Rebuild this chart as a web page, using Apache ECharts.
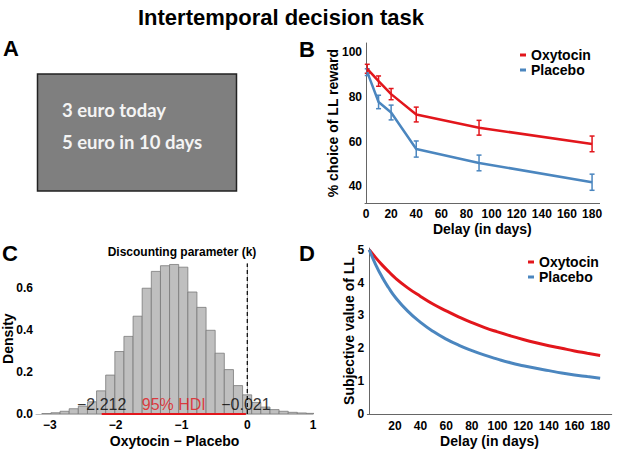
<!DOCTYPE html>
<html>
<head>
    <meta charset="utf-8">
    <title>Intertemporal decision task</title>
    <script src="https://cdn.jsdelivr.net/npm/echarts@6/dist/echarts.min.js"></script>
    <style>
        html, body { margin: 0; padding: 0; background: #fff; }
        #main { width: 617px; height: 449px; }
    </style>
</head>
<body>
<div id="main"></div>
<script>
    // B: choice of later-larger reward
    var delaysB = [1, 10, 20, 40, 90, 180];
    var oxyChoice = [92.5, 87.0, 81.2, 72.1, 66.2, 59.0];
    var oxyErr = [2.0, 2.3, 2.5, 3.3, 3.3, 3.5];
    var plaChoice = [91.0, 77.7, 73.0, 56.7, 50.5, 41.9];
    var plaErr = [1.5, 3.0, 3.3, 3.6, 3.5, 3.6];
    var ticksB_x = [0, 20, 40, 60, 80, 100, 120, 140, 160, 180];
    var ticksB_y = [40, 60, 80, 100];

    // C: posterior of k difference
    var binEdges = [-3.121, -2.983, -2.844, -2.706, -2.567, -2.428, -2.290, -2.151, -2.012, -1.874,
        -1.735, -1.597, -1.458, -1.319, -1.181, -1.042, -0.903, -0.765, -0.626, -0.488,
        -0.349, -0.210, -0.071, 0.067, 0.206, 0.345, 0.483, 0.622, 0.760, 0.899, 1.038];
    var density = [0.002, 0.006, 0.013, 0.025, 0.037, 0.058, 0.110, 0.185, 0.297, 0.369,
        0.465, 0.598, 0.678, 0.705, 0.711, 0.698, 0.580, 0.507, 0.398, 0.289,
        0.211, 0.135, 0.091, 0.055, 0.033, 0.021, 0.013, 0.008, 0.005, 0.003];
    var hdi = [-2.212, -0.021];
    var hdiText = ['\u22122.212', '95% HDI', '\u22120.021'];
    var ticksC_x = [-3, -2, -1, 0, 1];
    var ticksC_y = [0, 0.2, 0.4, 0.6];

    // D: subjective value curves
    var delaysD = [0, 5, 10, 15, 20, 30, 40, 50, 60, 70, 80, 90, 100, 110, 120, 130, 140, 150, 160, 170, 180];
    var oxyValue = [5.0, 4.76, 4.54, 4.34, 4.15, 3.84, 3.58, 3.34, 3.14, 2.95, 2.78, 2.63, 2.50, 2.38, 2.27, 2.17, 2.08, 2.00, 1.92, 1.85, 1.78];
    var plaValue = [5.0, 4.55, 4.17, 3.85, 3.57, 3.13, 2.79, 2.51, 2.28, 2.09, 1.93, 1.79, 1.67, 1.56, 1.47, 1.39, 1.32, 1.25, 1.19, 1.14, 1.09];
    var ticksD_x = [20, 40, 60, 80, 100, 120, 140, 160, 180];
    var ticksD_y = [0, 1, 2, 3, 4, 5];

    var RED = '#e2161c';
    var BLUE = '#4b86bf';
    var FONT = 'Liberation Sans, Arial, sans-serif';

    var chart = echarts.init(document.getElementById('main'), null, {renderer: 'svg'});

    function pairs(xs, ys) {
        return xs.map(function (x, i) { return [x, ys[i]]; });
    }

    function errBars(means, errs) {
        return delaysB.map(function (d, i) { return [d, means[i] - errs[i], means[i] + errs[i]]; });
    }

    function renderErr(color) {
        return function (params, api) {
            var x = api.value(0);
            var lo = api.coord([x, api.value(1)]);
            var hi = api.coord([x, api.value(2)]);
            var w = 2.5;
            var st = {stroke: color, lineWidth: 1.5};
            return {
                type: 'group', children: [
                    {type: 'line', shape: {x1: lo[0], y1: lo[1], x2: hi[0], y2: hi[1]}, style: st},
                    {type: 'line', shape: {x1: lo[0] - w, y1: lo[1], x2: lo[0] + w, y2: lo[1]}, style: st},
                    {type: 'line', shape: {x1: hi[0] - w, y1: hi[1], x2: hi[0] + w, y2: hi[1]}, style: st}
                ]
            };
        };
    }

    var histData = density.map(function (h, i) { return [binEdges[i], binEdges[i + 1], h]; });

    function renderBin(params, api) {
        var p0 = api.coord([api.value(0), api.value(2)]);
        var p1 = api.coord([api.value(1), 0]);
        return {
            type: 'rect',
            shape: {x: p0[0], y: p0[1], width: p1[0] - p0[0], height: p1[1] - p0[1]},
            style: {fill: '#bfbfbf', stroke: '#7a7a7a', lineWidth: 0.8}
        };
    }

    function makeAxis(grid, min, max, ticks, name, gap, fmt, lineColor, margin) {
        return {
            type: 'value', gridIndex: grid, min: min, max: max,
            axisLine: {show: true, lineStyle: {color: lineColor, width: 1}},
            axisTick: {show: false},
            splitLine: {show: false},
            axisLabel: {
                customValues: ticks, margin: margin, color: '#000', fontFamily: FONT,
                fontWeight: 'bold', fontSize: 12, formatter: fmt, hideOverlap: false
            },
            name: name, nameLocation: 'middle', nameGap: gap, nameMoveOverlap: false,
            nameTextStyle: {color: '#000', fontFamily: FONT, fontWeight: 'bold', fontSize: 14}
        };
    }

    var legendText = {color: '#000', fontFamily: FONT, fontWeight: 'bold', fontSize: 14, lineHeight: 13};

    var option = {
        animation: false,
        backgroundColor: '#fff',
        title: {
            text: 'Intertemporal decision task', left: 276, top: 1, textAlign: 'center',
            textStyle: {color: '#000', fontFamily: FONT, fontWeight: 'bold', fontSize: 22}
        },
        legend: [
            {
                data: ['Oxytocin', 'Placebo'], left: 515, top: 43, orient: 'vertical',
                icon: 'rect', itemWidth: 6, itemHeight: 3, itemGap: 1, textStyle: legendText,
                selectedMode: false
            },
            {
                data: ['Oxytocin', 'Placebo'], left: 523, top: 250, orient: 'vertical',
                icon: 'rect', itemWidth: 6, itemHeight: 3, itemGap: 1, textStyle: legendText,
                selectedMode: false
            }
        ],
        graphic: [
            {type: 'rect', shape: {x: 37.5, y: 74, width: 199, height: 117},
                style: {fill: '#7f7f7f', stroke: '#222', lineWidth: 1.5}},
            {type: 'text', x: 62, y: 110, style: {text: '3 euro today', fill: '#f4f4f4',
                font: 'bold 18.5px Lato, sans-serif', verticalAlign: 'middle'}},
            {type: 'text', x: 62, y: 142, style: {text: '5 euro in 10 days', fill: '#f4f4f4',
                font: 'bold 18.5px Lato, sans-serif', verticalAlign: 'middle'}},
            {type: 'text', x: 3, y: 48, style: {text: 'A', fill: '#000', font: 'bold 22px ' + FONT, verticalAlign: 'middle'}},
            {type: 'text', x: 299, y: 49, style: {text: 'B', fill: '#000', font: 'bold 22px ' + FONT, verticalAlign: 'middle'}},
            {type: 'text', x: 2, y: 253, style: {text: 'C', fill: '#000', font: 'bold 22px ' + FONT, verticalAlign: 'middle'}},
            {type: 'text', x: 299, y: 253, style: {text: 'D', fill: '#000', font: 'bold 22px ' + FONT, verticalAlign: 'middle'}},
            {type: 'text', x: 182, y: 252, style: {text: 'Discounting parameter (k)', fill: '#000',
                font: 'bold 12px ' + FONT, align: 'center', verticalAlign: 'middle'}}
        ],
        grid: [
            {left: 365, right: 17.4, top: 43, bottom: 245.7},
            {left: 36, right: 303.9, top: 263.4, bottom: 31.7},
            {left: 367.3, right: 5.3, top: 248.1, bottom: 29.7}
        ],
        xAxis: [
            makeAxis(0, -0.8, 186, ticksB_x, 'Delay (in days)', 19, null, '#666', 5),
            makeAxis(1, -3.21, 1.0, ticksC_x, 'Oxytocin \u2212 Placebo', 20, function (v) {
                return String(v).replace('-', '\u2212');
            }, '#bbb', 5),
            makeAxis(2, -1.5, 189, ticksD_x, 'Delay (in days)', 20, null, '#666', 6)
        ],
        yAxis: [
            makeAxis(0, 32.5, 104, ticksB_y, '% choice of LL reward', 25, null, '#666', 3),
            makeAxis(1, 0, 0.716, ticksC_y, 'Density', 21, function (v) { return v.toFixed(1); }, '#bbb', 3),
            makeAxis(2, 0, 5.05, ticksD_y, 'Subjective value of LL', 11, null, '#666', 3)
        ],
        series: [
            {
                name: 'Placebo', type: 'line', xAxisIndex: 0, yAxisIndex: 0, data: pairs(delaysB, plaChoice),
                showSymbol: false, color: BLUE, lineStyle: {width: 2.5}
            },
            {
                name: 'Placebo SEM', type: 'custom', xAxisIndex: 0, yAxisIndex: 0,
                data: errBars(plaChoice, plaErr), renderItem: renderErr(BLUE)
            },
            {
                name: 'Oxytocin', type: 'line', xAxisIndex: 0, yAxisIndex: 0, data: pairs(delaysB, oxyChoice),
                showSymbol: false, color: RED, lineStyle: {width: 2.5}
            },
            {
                name: 'Oxytocin SEM', type: 'custom', xAxisIndex: 0, yAxisIndex: 0,
                data: errBars(oxyChoice, oxyErr), renderItem: renderErr(RED)
            },
            {
                name: 'histogram', type: 'custom', xAxisIndex: 1, yAxisIndex: 1,
                data: histData, renderItem: renderBin, clip: true
            },
            {
                name: 'HDI', type: 'line', xAxisIndex: 1, yAxisIndex: 1,
                data: [[hdi[0], 0], [hdi[1], 0]], showSymbol: false, color: RED, lineStyle: {width: 2}, z: 5
            },
            {
                name: 'zero', type: 'line', xAxisIndex: 1, yAxisIndex: 1,
                data: [[0, 0], [0, 0.716]], showSymbol: false, color: '#000',
                lineStyle: {width: 1.2, type: [4, 3]}, z: 4
            },
            {
                name: 'HDI labels', type: 'scatter', xAxisIndex: 1, yAxisIndex: 1, symbolSize: 0, z: 6,
                data: [
                    {value: [hdi[0], 0.045], name: hdiText[0], label: {color: '#000'}},
                    {value: [(hdi[0] + hdi[1]) / 2, 0.045], name: hdiText[1], label: {color: RED}},
                    {value: [hdi[1], 0.045], name: hdiText[2], label: {color: '#000'}}
                ],
                label: {
                    show: true, position: 'inside', formatter: '{b}', fontFamily: FONT, fontSize: 16,
                    textBorderWidth: 0, textBorderColor: 'transparent'
                }
            },
            {
                name: 'Oxytocin', type: 'line', xAxisIndex: 2, yAxisIndex: 2, data: pairs(delaysD, oxyValue),
                showSymbol: false, smooth: true, color: RED, lineStyle: {width: 3}
            },
            {
                name: 'Placebo', type: 'line', xAxisIndex: 2, yAxisIndex: 2, data: pairs(delaysD, plaValue),
                showSymbol: false, smooth: true, color: BLUE, lineStyle: {width: 3}
            }
        ]
    };

    chart.setOption(option);

    window.onresize = function () {
        chart.resize();
    };
</script>
</body>
</html>
